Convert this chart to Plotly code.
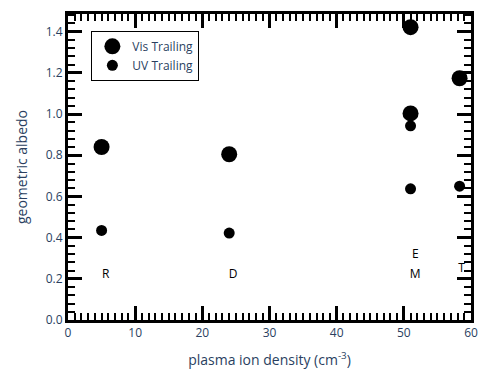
import plotly.graph_objects as go

vis_x = [5, 24, 51, 51, 58.3]
vis_y = [0.84, 0.805, 1.422, 1.003, 1.174]
uv_x = [5, 24, 51, 51, 58.3]
uv_y = [0.435, 0.422, 0.943, 0.637, 0.650]
lab_text = ["R", "D", "E", "M", "T"]
lab_x = [5.6, 24.6, 51.7, 51.7, 58.6]
lab_y = [0.218, 0.218, 0.318, 0.218, 0.248]

fig = go.Figure()
fig.add_trace(go.Scatter(x=vis_x, y=vis_y, mode="markers", name="Vis Trailing",
                         marker=dict(size=16, color="black")))
fig.add_trace(go.Scatter(x=uv_x, y=uv_y, mode="markers", name="UV Trailing",
                         marker=dict(size=11, color="black")))
fig.add_trace(go.Scatter(x=lab_x, y=lab_y, mode="text", text=lab_text, showlegend=False,
                         textfont=dict(color="black")))
fig.update_xaxes(range=[0, 60], dtick=10, showline=True, linecolor="black", linewidth=3,
                 mirror="ticks", ticks="inside", ticklen=14, tickwidth=3, tickcolor="black", showgrid=False,
                 minor=dict(dtick=1, ticks="inside", ticklen=7, tickwidth=2, tickcolor="black"),
                 title=dict(text="plasma ion density (cm<sup>-3</sup>)"))
fig.update_yaxes(range=[0, 1.486], dtick=0.2, showline=True, linecolor="black", linewidth=3,
                 mirror="ticks", ticks="inside", ticklen=14, tickwidth=3, tickcolor="black", showgrid=False,
                 zeroline=False, tickformat=".1f",
                 minor=dict(dtick=0.04, ticks="inside", ticklen=7, tickwidth=2, tickcolor="black"),
                 title=dict(text="geometric albedo"))
fig.update_layout(width=487, height=375, margin=dict(l=68, r=9, t=14, b=52), plot_bgcolor="white",
                  showlegend=True,
                  legend=dict(x=0.058, y=0.945, xanchor="left", yanchor="top",
                              bgcolor="white", bordercolor="black", borderwidth=1))

fig.write_html("out.html")
